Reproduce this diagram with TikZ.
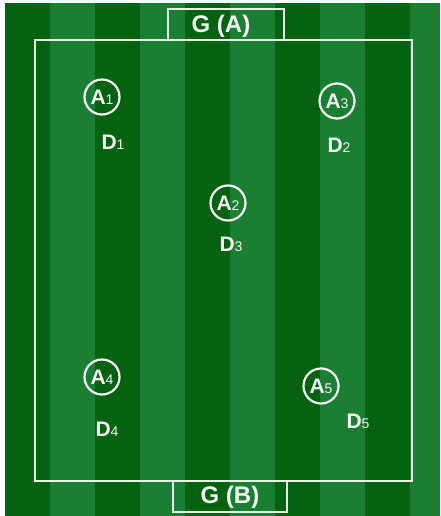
\documentclass[tikz,border=0pt]{standalone}
\usepackage{fontspec}
\setmainfont{Liberation Sans}
\definecolor{darkgrass}{RGB}{4,98,16}
\definecolor{lightgrass}{RGB}{26,127,51}
\definecolor{chalk}{RGB}{232,244,232}
\definecolor{ink}{RGB}{245,248,245}
\newcommand{\smalldigit}[1]{{\fontsize{14}{14}\selectfont\mdseries #1}}
\tikzset{
  pitchline/.style={draw=chalk, line width=1.8pt},
  player/.style={circle, draw=ink, line width=2.2pt, minimum size=35pt, inner sep=0pt,
    text=ink, font=\fontsize{21}{21}\selectfont\bfseries},
  marker/.style={anchor=base, inner sep=0pt, text=ink, font=\fontsize{21}{21}\selectfont\bfseries},
  goallabel/.style={anchor=base, inner sep=0pt, text=ink, font=\fontsize{24}{24}\selectfont\bfseries}
}
\begin{document}
\begin{tikzpicture}[x=1pt, y=-1pt]
\useasboundingbox (0,0) rectangle (440,516);
\fill[white] (0,0) rectangle (440,516);
% grass stripes
\fill[darkgrass] (5,3) rectangle (440,516);
\foreach \xs in {50,140,230,320,410} {
  \pgfmathsetmacro{\xe}{min(\xs+45,440)}
  \fill[lightgrass] (\xs,3) rectangle (\xe,516);
}
% field lines
\draw[pitchline] (35,40) rectangle (412,481);
\draw[pitchline] (168,40) -- (168,9) -- (284,9) -- (284,40);
\draw[pitchline] (173,481) -- (173,512) -- (287,512) -- (287,481);
\node[goallabel] (ga) at (221,33) {G (A)};
\node[goallabel] (gb) at (230,503) {G (B)};
% attackers
\node[player] (a1) at (102,97) {A\smalldigit{1}};
\node[player] (a3) at (337,101) {A\smalldigit{3}};
\node[player] (a2) at (228,203) {A\smalldigit{2}};
\node[player] (a4) at (102,377) {A\smalldigit{4}};
\node[player] (a5) at (321,386) {A\smalldigit{5}};
% defenders
\node[marker] (d1) at (113,149) {D\smalldigit{1}};
\node[marker] (d2) at (339,152) {D\smalldigit{2}};
\node[marker] (d3) at (231,251) {D\smalldigit{3}};
\node[marker] (d4) at (107,436) {D\smalldigit{4}};
\node[marker] (d5) at (358,428) {D\smalldigit{5}};
\end{tikzpicture}
\end{document}
